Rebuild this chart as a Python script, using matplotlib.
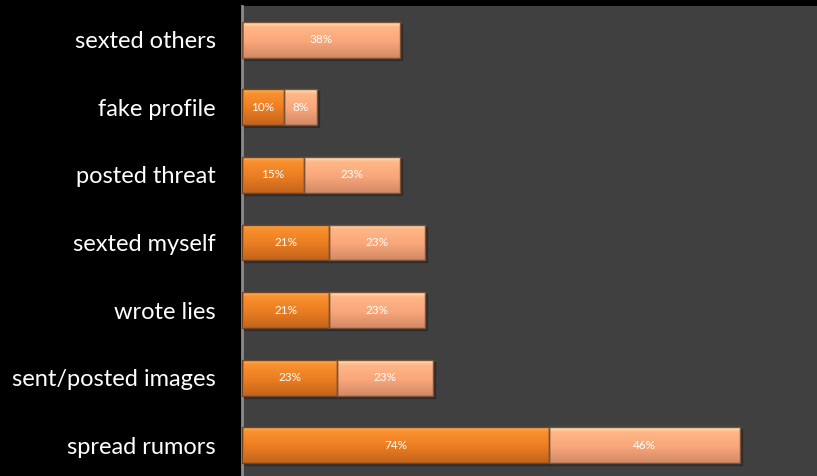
import numpy as np
import matplotlib.pyplot as plt
from matplotlib.colors import LinearSegmentedColormap

# -- données -- #
categories = ['sexted others', 'fake profile', 'posted threat', 'sexted myself',
              'wrote lies', 'sent/posted images', 'spread rumors']
serie1 = [0, 10, 15, 21, 21, 23, 74]   # orange foncé
serie2 = [38, 8, 23, 23, 23, 23, 46]   # orange clair

plt.rcParams['font.family'] = ['Lato', 'DejaVu Sans']

# dégradés vertical (haut -> bas) pour l'effet relief
cmap1 = LinearSegmentedColormap.from_list('c1', [(0, '#fbb462'), (0.12, '#f9902e'),
                                                 (0.55, '#ea7d22'), (1, '#c3641b')])
cmap2 = LinearSegmentedColormap.from_list('c2', [(0, '#fde8c2'), (0.12, '#ffb888'),
                                                 (0.55, '#f9a67a'), (1, '#d28a66')])

fig = plt.figure(figsize=(8.17, 4.76), dpi=100)
fig.patch.set_facecolor('black')
W, H = 817, 476
ax = fig.add_axes([242/W, 1-479/H, 581/W, 473/H])
ax.set_facecolor('#404040')

y = np.arange(len(categories))
h = 0.53

def barre_degrade(ax, bars, cmap):
    grad = np.linspace(0, 1, 64).reshape(-1, 1)
    for b in bars:
        if b.get_width() <= 0:
            continue
        x0, y0 = b.get_x(), b.get_y()
        # ombre portée
        ax.add_patch(plt.Rectangle((x0+0.5, y0+0.03), b.get_width(), b.get_height(),
                                   color='#222222', alpha=0.5, zorder=1))
        im = ax.imshow(grad, cmap=cmap, aspect='auto', origin='upper', zorder=2,
                       extent=[x0, x0+b.get_width(), y0+b.get_height(), y0])
        im.set_clip_path(b)
        b.set_facecolor('none')

b1 = ax.barh(y, serie1, height=h, edgecolor='#6e4524', linewidth=1, zorder=3)
b2 = ax.barh(y, serie2, left=serie1, height=h, edgecolor='#7a5236', linewidth=1, zorder=3)
barre_degrade(ax, b1, cmap1)
barre_degrade(ax, b2, cmap2)

for bars, vals in [(b1, serie1), (b2, serie2)]:
    for b, v in zip(bars, vals):
        if v > 0:
            ax.text(b.get_x()+b.get_width()/2, b.get_y()+b.get_height()/2, f'{v}%',
                    ha='center', va='center', color='white', fontsize=8.5, zorder=4)

ax.set_xlim(0, 140)
ax.set_ylim(len(categories)-0.5, -0.5)
ax.set_yticks(y)
ax.set_yticklabels(categories, color='white', fontsize=17)
ax.tick_params(axis='y', length=0, pad=19)
ax.set_xticks([])
for s in ['top', 'right', 'bottom']:
    ax.spines[s].set_visible(False)
ax.spines['left'].set_color('#8c8c8c')
ax.spines['left'].set_linewidth(2)

fig.savefig('out.png', dpi=100, facecolor='black')
